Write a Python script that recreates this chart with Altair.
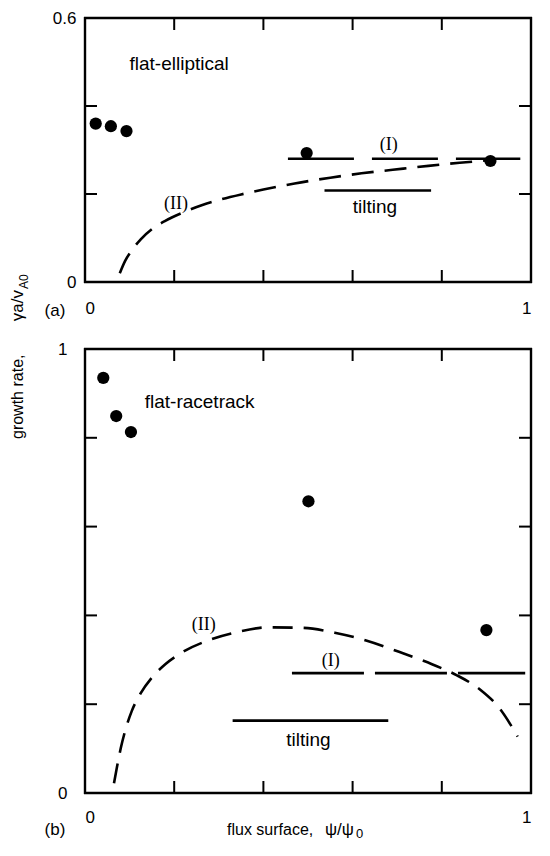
import altair as alt
import pandas as pd

# ---------------- panel (a): flat-elliptical ----------------
a_pts_x = [0.024, 0.058, 0.093, 0.497, 0.909]
a_pts_y = [0.360, 0.354, 0.343, 0.293, 0.275]
a_II_x = [0.078, 0.090, 0.105, 0.125, 0.150, 0.180, 0.220, 0.260, 0.306, 0.350, 0.400, 0.470, 0.550, 0.620, 0.690, 0.770, 0.840, 0.900]
a_II_y = [0.020, 0.048, 0.072, 0.097, 0.120, 0.139, 0.158, 0.174, 0.188, 0.199, 0.210, 0.224, 0.237, 0.247, 0.255, 0.264, 0.271, 0.276]
a_I_x = [0.455, 0.976]
a_I_y = [0.280, 0.280]
a_tilt_x = [0.537, 0.776]
a_tilt_y = [0.208, 0.208]
a_sans_labels = ["flat-elliptical", "tilting"]
a_sans_x = [0.211, 0.650]
a_sans_y = [0.495, 0.170]
a_serif_labels = ["(II)", "(I)"]
a_serif_x = [0.204, 0.681]
a_serif_y = [0.177, 0.311]

# ---------------- panel (b): flat-racetrack ----------------
b_pts_x = [0.041, 0.070, 0.103, 0.501, 0.900]
b_pts_y = [0.935, 0.849, 0.813, 0.657, 0.367]
b_II_x = [0.065, 0.072, 0.080, 0.090, 0.105, 0.125, 0.150, 0.180, 0.220, 0.280, 0.340, 0.410, 0.486, 0.560, 0.632, 0.704, 0.778, 0.834, 0.887, 0.930, 0.970]
b_II_y = [0.022, 0.060, 0.100, 0.140, 0.185, 0.225, 0.260, 0.290, 0.318, 0.345, 0.362, 0.373, 0.372, 0.361, 0.343, 0.318, 0.290, 0.265, 0.232, 0.190, 0.127]
b_I_x = [0.464, 0.987]
b_I_y = [0.270, 0.270]
b_tilt_x = [0.331, 0.680]
b_tilt_y = [0.163, 0.163]
b_sans_labels = ["flat-racetrack", "tilting"]
b_sans_x = [0.257, 0.501]
b_sans_y = [0.880, 0.120]
b_serif_labels = ["(II)", "(I)"]
b_serif_x = [0.266, 0.551]
b_serif_y = [0.379, 0.298]

x_ticks = [0.2, 0.4, 0.6, 0.8]
a_y_ticks = [0.2, 0.4]
b_y_ticks = [0.2, 0.4, 0.6, 0.8]
x_label_values = [0, 1]
a_y_label_values = [0, 0.6]
b_y_label_values = [0, 1]

SANS = "Liberation Sans"
SERIF = "Liberation Serif"
W = 446
TICK = 12
one = pd.DataFrame({"k": [0]})


def panel(pts_x, pts_y, II_x, II_y, I_x, I_y, tilt_x, tilt_y,
          sans_lab, sans_x, sans_y, serif_lab, serif_x, serif_y,
          ymax, y_ticks, y_label_values, H, I_dash, II_dash,
          ylabpad, xlabpad, tag, tag_dy, extra=None):
    xs = alt.Scale(domain=[0, 1], nice=False, zero=False)
    ys = alt.Scale(domain=[0, ymax], nice=False, zero=False)
    ax_x = alt.Axis(values=x_label_values, format="~g", ticks=False, domain=False,
                    grid=False, title=None, labelFont=SANS, labelFontSize=17,
                    labelColor="black", labelPadding=xlabpad, labelFlush=True)
    ax_y = alt.Axis(values=y_label_values, format="~g", ticks=False, domain=False,
                    grid=False, title=None, labelFont=SANS, labelFontSize=17,
                    labelColor="black", labelPadding=ylabpad)

    def X(f):
        return alt.X(f, type="quantitative", scale=xs, axis=ax_x)

    def Y(f):
        return alt.Y(f, type="quantitative", scale=ys, axis=ax_y)

    pts = pd.DataFrame({"x": pts_x, "y": pts_y})
    II = pd.DataFrame({"x": II_x, "y": II_y})
    I = pd.DataFrame({"x": I_x, "y": I_y})
    tilt = pd.DataFrame({"x": tilt_x, "y": tilt_y})
    sans = pd.DataFrame({"x": sans_x, "y": sans_y, "t": sans_lab})
    serif = pd.DataFrame({"x": serif_x, "y": serif_y, "t": serif_lab})
    xt = pd.DataFrame({"v": x_ticks})
    yt = pd.DataFrame({"v": y_ticks})
    edge_x = pd.DataFrame({"v": [0, 1]})
    edge_y = pd.DataFrame({"v": [0, ymax]})

    layers = [
        alt.Chart(II).mark_line(color="black", strokeWidth=2.6, strokeDash=II_dash,
                                interpolate="monotone").encode(x=X("x"), y=Y("y"), order="x:Q"),
        alt.Chart(I).mark_line(color="black", strokeWidth=2.6, strokeDash=I_dash).encode(x=X("x"), y=Y("y")),
        alt.Chart(tilt).mark_line(color="black", strokeWidth=2.6).encode(x=X("x"), y=Y("y")),
        alt.Chart(pts).mark_circle(color="black", opacity=1, size=150).encode(x=X("x"), y=Y("y")),
        alt.Chart(sans).mark_text(font=SANS, fontSize=19, color="black").encode(x=X("x"), y=Y("y"), text="t:N"),
        alt.Chart(serif).mark_text(font=SERIF, fontSize=18, color="black").encode(x=X("x"), y=Y("y"), text="t:N"),
        # inward tick marks on all four sides
        alt.Chart(xt).mark_rule(color="black", strokeWidth=2).encode(x=X("v"), y=alt.value(H), y2=alt.value(H - TICK)),
        alt.Chart(xt).mark_rule(color="black", strokeWidth=2).encode(x=X("v"), y=alt.value(0), y2=alt.value(TICK)),
        alt.Chart(yt).mark_rule(color="black", strokeWidth=2).encode(y=Y("v"), x=alt.value(0), x2=alt.value(TICK)),
        alt.Chart(yt).mark_rule(color="black", strokeWidth=2).encode(y=Y("v"), x=alt.value(W), x2=alt.value(W - TICK)),
        # plot frame: the same construction as the ticks, run across the whole panel
        alt.Chart(edge_x).mark_rule(color="black", strokeWidth=2.4).encode(
            x=X("v"), y=alt.value(-1), y2=alt.value(H + 1)),
        alt.Chart(edge_y).mark_rule(color="black", strokeWidth=2.4).encode(
            y=Y("v"), x=alt.value(-1), x2=alt.value(W + 1)),
        alt.Chart(one).mark_text(text=tag, font=SANS, fontSize=17, color="black", baseline="middle").encode(
            x=alt.value(-30), y=alt.value(H + tag_dy)),
    ]
    if extra:
        layers += extra
    return alt.layer(*layers).properties(width=W, height=H)


H_A = 264
H_B = 444
top = panel(a_pts_x, a_pts_y, a_II_x, a_II_y, a_I_x, a_I_y, a_tilt_x, a_tilt_y,
            a_sans_labels, a_sans_x, a_sans_y, a_serif_labels, a_serif_x, a_serif_y,
            0.6, a_y_ticks, a_y_label_values, H_A, [66, 18], [22, 11], 9, 18, "(a)", 29)

extra_b = [
    alt.Chart(one).mark_text(text="growth rate,", angle=270, align="left",
                             baseline="alphabetic", font=SANS, fontSize=16, color="black").encode(
        x=alt.value(-62), y=alt.value(90)),
    alt.Chart(one).mark_text(text="\u03b3a/v", angle=270, align="right",
                             baseline="alphabetic", font=SANS, fontSize=17, color="black").encode(
        x=alt.value(-62), y=alt.value(-59)),
    alt.Chart(one).mark_text(text="A0", angle=270, align="left",
                             baseline="alphabetic", font=SANS, fontSize=12, color="black").encode(
        x=alt.value(-57), y=alt.value(-60)),
    alt.Chart(one).mark_text(text="flux surface,", align="left",
                             baseline="alphabetic", font=SANS, fontSize=16, color="black").encode(
        x=alt.value(142), y=alt.value(H_B + 42)),
    alt.Chart(one).mark_text(text="\u03c8/\u03c8", align="left",
                             baseline="alphabetic", font=SANS, fontSize=17, color="black").encode(
        x=alt.value(240), y=alt.value(H_B + 42)),
    alt.Chart(one).mark_text(text="0", align="left",
                             baseline="alphabetic", font=SANS, fontSize=13, color="black").encode(
        x=alt.value(271), y=alt.value(H_B + 45)),
]
bottom = panel(b_pts_x, b_pts_y, b_II_x, b_II_y, b_I_x, b_I_y, b_tilt_x, b_tilt_y,
               b_sans_labels, b_sans_x, b_sans_y, b_serif_labels, b_serif_x, b_serif_y,
               1.0, b_y_ticks, b_y_label_values, H_B, [72, 11], [20, 11], 18, 16, "(b)", 37, extra_b)

chart = alt.vconcat(top, bottom, spacing=67, bounds="flush").properties(
    padding={"left": 0, "top": 0, "right": 0, "bottom": 0}
).configure_view(stroke="black", strokeWidth=2)

chart.save("out.html", embed_options={"renderer": "svg", "actions": False})
